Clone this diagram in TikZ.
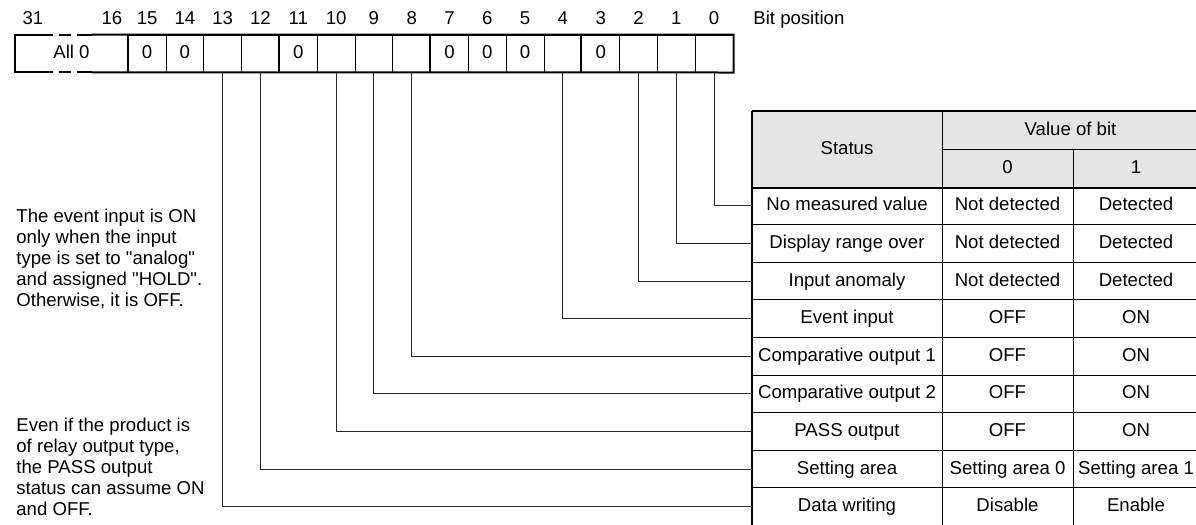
\documentclass[tikz,border=0pt]{standalone}
\usepackage{fontspec}
\setmainfont{Liberation Sans}
\begin{document}
\begin{tikzpicture}[x=0.5pt,y=-0.5pt,every node/.style={font=\fontsize{9.3}{10.5}\selectfont,text height=6.7pt,text depth=1.6pt},
  bitcell/.style={draw,line width=0.5pt,minimum width=18.9pt,minimum height=18.5pt,inner sep=0pt},
  tcell/.style={draw,line width=0.5pt,minimum height=18.8pt,inner sep=0pt},
  hcell/.style={tcell,fill=black!10},
  conn/.style={line width=0.5pt,black!85},
  note/.style={align=left,inner sep=0pt,anchor=north west,text height=,text depth=}]
\useasboundingbox (0,0) rectangle (1196,525);
\clip (0,0) rectangle (1196,525);
\foreach \b/\v in {0/,1/,2/,3/0,4/,5/0,6/0,7/0,8/,9/,10/,11/0,12/,13/,14/0,15/0}{
  \node[bitcell] (b\b) at ({714.1-37.8*\b},53.5) {\v};
  \node (n\b) at ({714.1-37.8*\b},19) {\b};
}
\node (n31) at (33,19) {31};
\node (n16) at (112,19) {16};
\node[anchor=west,inner sep=0pt] (bitpos) at (753,19) {Bit position};
\node[inner sep=0pt,minimum width=56.5pt,minimum height=18.5pt] (f16) at (71.5,53.5) {All 0};
\draw[line width=1pt] ([xshift=19pt]f16.north west) -- (f16.north west) -- (f16.south west) -- ([xshift=19pt]f16.south west);
\draw[line width=1pt,dash pattern=on 0pt off 3pt on 6pt off 3pt on 7pt] ([xshift=19pt]f16.north west) -- ([xshift=-18.5pt]f16.north east);
\draw[line width=1pt,dash pattern=on 0pt off 3pt on 6pt off 3pt on 7pt] ([xshift=19pt]f16.south west) -- ([xshift=-18.5pt]f16.south east);
\draw[line width=1pt] ([xshift=-18.5pt]f16.north east) -- (b0.north east) -- (b0.south east) -- ([xshift=-18.5pt]f16.south east);
\foreach \b in {15,11,7,3} \draw[line width=1pt] (b\b.north west) -- (b\b.south west);
\node[hcell,minimum width=95pt,minimum height=38pt] (status) at (847,149) {Status};
\node[hcell,minimum width=128.5pt,minimum height=19pt] (vob) at (1070.5,130) {Value of bit};
\node[hcell,minimum width=65.5pt,minimum height=19pt] (v0) at (1007.5,168) {0};
\node[hcell,minimum width=63pt,minimum height=19pt] (v1) at (1136,168) {1};
\foreach \i/\s/\a/\c in {1/No measured value/Not detected/Detected,
  2/Display range over/Not detected/Detected,
  3/Input anomaly/Not detected/Detected,
  4/Event input/OFF/ON,
  5/Comparative output 1/OFF/ON,
  6/Comparative output 2/OFF/ON,
  7/PASS output/OFF/ON,
  8/Setting area/Setting area 0/Setting area 1,
  9/Data writing/Disable/Enable}{
  \node[tcell,minimum width=95pt] (s\i) at (847,{168.2+37.6*\i}) {\s};
  \node[tcell,minimum width=65.5pt] (a\i) at (1007.5,{168.2+37.6*\i}) {\a};
  \node[tcell,minimum width=63pt] (c\i) at (1136,{168.2+37.6*\i}) {\c};
}
\draw[line width=1pt] (status.north west) -- (vob.north east);
\draw[line width=1pt] (status.north west) -- (s9.south west);
\draw[line width=1pt] (status.south west) -- (v1.south east);
\draw[conn] (b0.south) |- (s1.west);
\draw[conn] (b1.south) |- (s2.west);
\draw[conn] (b2.south) |- (s3.west);
\draw[conn] (b4.south) |- (s4.west);
\draw[conn] (b8.south) |- (s5.west);
\draw[conn] (b9.south) |- (s6.west);
\draw[conn] (b10.south) |- (s7.west);
\draw[conn] (b12.south) |- (s8.west);
\draw[conn] (b13.south) |- (s9.west);
\node[note] (evnote) at (16,209) {The event input is ON\\only when the input\\type is set to \textquotedbl analog\textquotedbl\\and assigned \textquotedbl HOLD\textquotedbl.\\Otherwise, it is OFF.};
\node[note] (passnote) at (16,418) {Even if the product is\\of relay output type,\\the PASS output\\status can assume ON\\and OFF.};
\end{tikzpicture}
\end{document}
